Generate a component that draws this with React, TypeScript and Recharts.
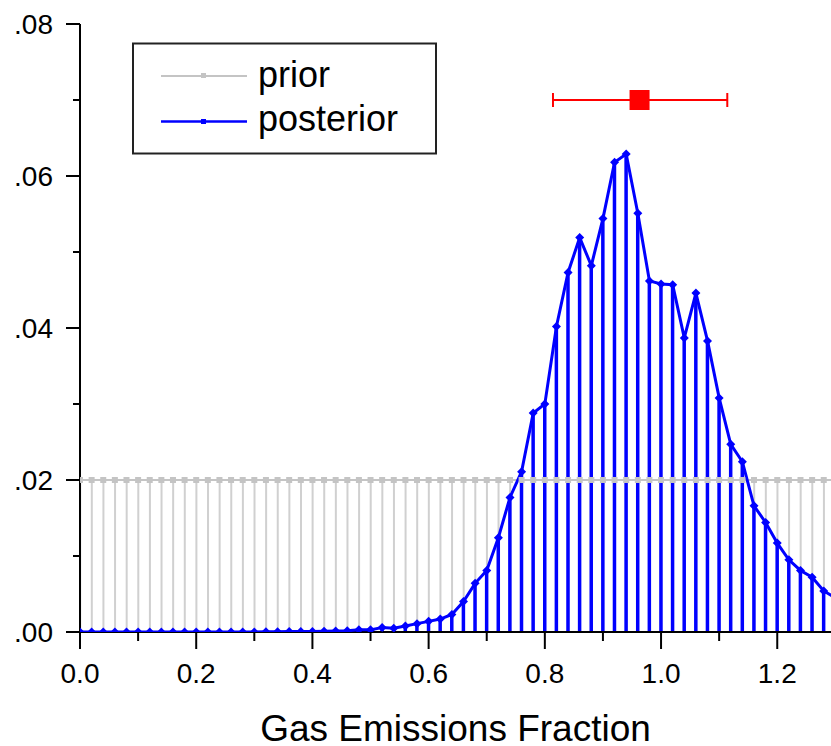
import React from 'react';
import {
  ComposedChart,
  Bar,
  Line,
  Scatter,
  ErrorBar,
  XAxis,
  YAxis,
  Legend
} from 'recharts';

// gas emissions fraction, one point every 0.02
const fractions = [
  0.0, 0.02, 0.04, 0.06, 0.08, 0.1, 0.12, 0.14, 0.16, 0.18,
  0.2, 0.22, 0.24, 0.26, 0.28, 0.3, 0.32, 0.34, 0.36, 0.38,
  0.4, 0.42, 0.44, 0.46, 0.48, 0.5, 0.52, 0.54, 0.56, 0.58,
  0.6, 0.62, 0.64, 0.66, 0.68, 0.7, 0.72, 0.74, 0.76, 0.78,
  0.8, 0.82, 0.84, 0.86, 0.88, 0.9, 0.92, 0.94, 0.96, 0.98,
  1.0, 1.02, 1.04, 1.06, 1.08, 1.1, 1.12, 1.14, 1.16, 1.18,
  1.2, 1.22, 1.24, 1.26, 1.28, 1.3
];

const prior = [
  0.02, 0.02, 0.02, 0.02, 0.02, 0.02, 0.02, 0.02, 0.02, 0.02,
  0.02, 0.02, 0.02, 0.02, 0.02, 0.02, 0.02, 0.02, 0.02, 0.02,
  0.02, 0.02, 0.02, 0.02, 0.02, 0.02, 0.02, 0.02, 0.02, 0.02,
  0.02, 0.02, 0.02, 0.02, 0.02, 0.02, 0.02, 0.02, 0.02, 0.02,
  0.02, 0.02, 0.02, 0.02, 0.02, 0.02, 0.02, 0.02, 0.02, 0.02,
  0.02, 0.02, 0.02, 0.02, 0.02, 0.02, 0.02, 0.02, 0.02, 0.02,
  0.02, 0.02, 0.02, 0.02, 0.02, 0.02
];

const posterior = [
  0, 0, 0, 0, 0, 0, 0, 0, 0, 0,
  0, 0, 0, 0, 0, 0, 0.00002, 0.00003, 0.00005, 0.00006,
  0.00008, 0.0001, 0.00012, 0.00015, 0.0003, 0.00028, 0.0006, 0.0005, 0.0008, 0.0011,
  0.0014, 0.0017, 0.0023, 0.004, 0.0064, 0.0081, 0.0124, 0.0177, 0.0211, 0.0288,
  0.03, 0.0402, 0.0473, 0.0519, 0.0482, 0.0544, 0.0618, 0.0629, 0.0551, 0.0462,
  0.0458, 0.0457, 0.0387, 0.0446, 0.0383, 0.0308, 0.0247, 0.0224, 0.0166, 0.0144,
  0.0117, 0.0095, 0.0081, 0.0072, 0.0054, 0.0045
];

// red point with horizontal error bar
const meanX = 0.963;
const meanY = 0.07;
const meanErr = [0.149, 0.151];

const xTicks = [0, 0.1, 0.2, 0.3, 0.4, 0.5, 0.6, 0.7, 0.8, 0.9, 1.0, 1.1, 1.2];
const yTicks = [0, 0.01, 0.02, 0.03, 0.04, 0.05, 0.06, 0.07, 0.08];

const FONT = '"Liberation Sans", Arial, sans-serif';
const X_MAX = 1.2925;

const data = fractions.map((x, i) => ({ x, prior: prior[i], post: posterior[i] }));
const meanData = [{ x: meanX, y: meanY, err: meanErr }];

const XTick = (props: any) => {
  const { x, y, payload } = props;
  const major = Math.round(payload.value * 10) % 2 === 0;
  return (
    <g>
      <line x1={x} x2={x} y1={y} y2={y + (major ? 17 : 9)} stroke="#000" strokeWidth={2} />
      {major && (
        <text x={x} y={y + 51} textAnchor="middle" fontSize={28} fontFamily={FONT} fill="#000">
          {payload.value.toFixed(1)}
        </text>
      )}
    </g>
  );
};

const YTick = (props: any) => {
  const { x, y, payload } = props;
  const major = Math.round(payload.value * 100) % 2 === 0;
  return (
    <g>
      <line x1={x - (major ? 14 : 7)} x2={x} y1={y} y2={y} stroke="#000" strokeWidth={2} />
      {major && (
        <text x={x - 27} y={y + 10} textAnchor="end" fontSize={28} fontFamily={FONT} fill="#000">
          {payload.value.toFixed(2).slice(1)}
        </text>
      )}
    </g>
  );
};

// thin vertical stems, centred on each bar slot
const stem = (w: number, color: string) => (p: any) => (
  <rect x={p.x + p.width / 2 - w / 2} y={p.y} width={w} height={Math.max(0, p.height)} fill={color} />
);

const GrayDot = (props: any) => {
  const { cx, cy, index } = props;
  return <rect key={'g' + index} x={cx - 3} y={cy - 3} width={6} height={6} fill="#c4c4c4" />;
};

const BlueDot = (props: any) => {
  const { cx, cy, index } = props;
  return (
    <polygon
      key={'b' + index}
      points={`${cx},${cy - 4.5} ${cx + 4.5},${cy} ${cx},${cy + 4.5} ${cx - 4.5},${cy}`}
      fill="#0000ff"
    />
  );
};

const LegendBox = () => (
  <svg width={306} height={113} style={{ display: 'block' }}>
    <rect x={1} y={1.5} width={303} height={110} fill="#fff" stroke="#222" strokeWidth={2} />
    <line x1={29} x2={115} y1={34} y2={34} stroke="#c4c4c4" strokeWidth={2} />
    <rect x={69} y={31} width={5} height={5} fill="#c4c4c4" />
    <text x={126} y={45} fontSize={36} fontFamily={FONT} fill="#000">prior</text>
    <line x1={29} x2={115} y1={79.5} y2={79.5} stroke="#0000ff" strokeWidth={2.5} />
    <rect x={69} y={77} width={5} height={5} fill="#0000ff" />
    <text x={126} y={89} fontSize={36} fontFamily={FONT} fill="#000">posterior</text>
  </svg>
);

export default function App() {
  return (
    <div style={{ position: 'absolute', left: 0, top: 0, background: '#fff' }}>
      <ComposedChart
        width={831}
        height={746}
        data={data}
        margin={{ top: 24, right: 0, bottom: 0, left: 0 }}
      >
        <XAxis
          xAxisId="main"
          type="number"
          dataKey="x"
          domain={[0, X_MAX]}
          allowDataOverflow
          ticks={xTicks}
          interval={0}
          height={114}
          tickSize={0}
          tickMargin={0}
          tickLine={false}
          tick={<XTick />}
          axisLine={{ stroke: '#000', strokeWidth: 2 }}
          label={{
            value: 'Gas Emissions Fraction',
            position: 'insideBottom',
            offset: 5,
            fontSize: 37,
            fontFamily: FONT,
            fill: '#000'
          }}
        />
        <XAxis xAxisId="prior" type="number" dataKey="x" domain={[0, X_MAX]} allowDataOverflow hide />
        <YAxis
          type="number"
          domain={[0, 0.08]}
          allowDataOverflow
          ticks={yTicks}
          interval={0}
          width={80}
          tickSize={0}
          tickMargin={0}
          tickLine={false}
          tick={<YTick />}
          axisLine={{ stroke: '#000', strokeWidth: 2 }}
        />
        <Legend
          layout="vertical"
          align="center"
          verticalAlign="middle"
          content={() => <LegendBox />}
          wrapperStyle={{ left: 132, top: 42, width: 306, height: 113 }}
        />
        <Bar
          xAxisId="prior"
          dataKey="prior"
          barSize={4}
          shape={stem(2, '#d0d0d0')}
          isAnimationActive={false}
          zIndex={200}
        />
        <Line
          xAxisId="main"
          dataKey="prior"
          stroke="#c4c4c4"
          strokeWidth={2}
          dot={<GrayDot />}
          activeDot={false}
          isAnimationActive={false}
          zIndex={250}
        />
        <Bar
          xAxisId="main"
          dataKey="post"
          barSize={4}
          shape={stem(3.5, '#0000ff')}
          isAnimationActive={false}
          zIndex={300}
        />
        <Line
          xAxisId="main"
          dataKey="post"
          stroke="#0000ff"
          strokeWidth={3}
          dot={<BlueDot />}
          activeDot={false}
          isAnimationActive={false}
          zIndex={600}
        />
        <Scatter
          xAxisId="main"
          data={meanData}
          dataKey="y"
          isAnimationActive={false}
          shape={(p: any) => (
            <rect x={p.cx - 10} y={p.cy - 10} width={20} height={20} fill="#ff0000" />
          )}
        >
          <ErrorBar dataKey="err" direction="x" width={7} stroke="#ff0000" strokeWidth={2} />
        </Scatter>
      </ComposedChart>
    </div>
  );
}
